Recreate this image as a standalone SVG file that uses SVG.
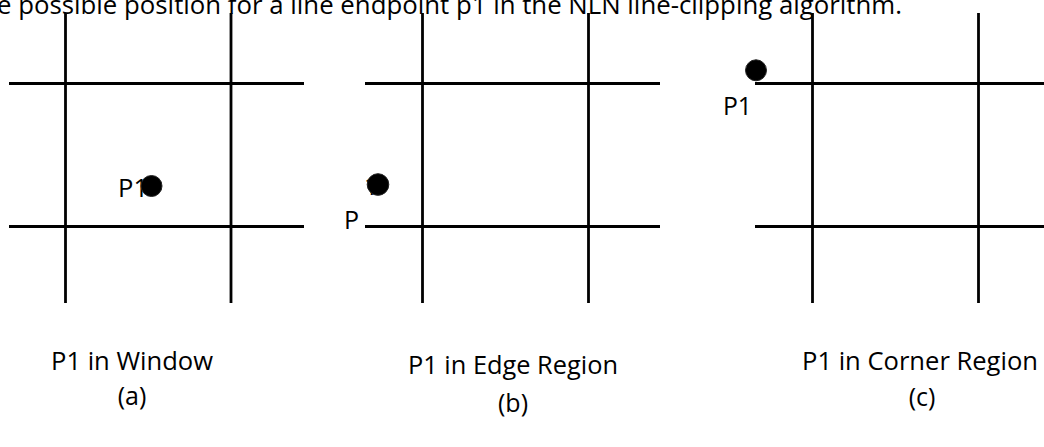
<svg xmlns="http://www.w3.org/2000/svg" width="1044" height="447" viewBox="0 0 1044 447">
<style>
.ln{stroke:#000;stroke-width:2.8;fill:none}
.t{font-family:"Open Sans","Noto Sans","Liberation Sans",sans-serif;font-size:25px;fill:#000}
.dot{fill:#000;stroke:#222;stroke-width:1}
</style>
<rect width="1044" height="447" fill="#fff"/>
<text class="t" x="-3" y="13.5" textLength="905" lengthAdjust="spacingAndGlyphs">e possible position for a line endpoint p1 in the NLN line-clipping algorithm.</text>
<g id="connectors">
<g id="grid-a">
<line class="ln" x1="65.5" y1="13" x2="65.5" y2="303"/>
<line class="ln" x1="231" y1="13" x2="231" y2="303"/>
<line class="ln" x1="9" y1="83.5" x2="304" y2="83.5"/>
<line class="ln" x1="9" y1="226.5" x2="304" y2="226.5"/>
</g>
<g id="grid-b">
<line class="ln" x1="422.5" y1="13" x2="422.5" y2="303"/>
<line class="ln" x1="588.5" y1="13" x2="588.5" y2="303"/>
<line class="ln" x1="365" y1="83.5" x2="660" y2="83.5"/>
<line class="ln" x1="365" y1="226.5" x2="660" y2="226.5"/>
</g>
<g id="grid-c">
<line class="ln" x1="812.5" y1="13" x2="812.5" y2="303"/>
<line class="ln" x1="978.5" y1="13" x2="978.5" y2="303"/>
<line class="ln" x1="755" y1="83.5" x2="1044" y2="83.5"/>
<line class="ln" x1="755" y1="226.5" x2="1044" y2="226.5"/>
</g>
</g>
<g id="p1-a">
<text class="t" x="118" y="197" textLength="30" lengthAdjust="spacingAndGlyphs">P1</text>
<circle class="dot" cx="151.5" cy="186" r="10.5"/>
</g>
<g id="p1-b">
<text class="t" x="364" y="195">1</text>
<circle class="dot" cx="378" cy="184.5" r="10.8"/>
<text class="t" x="344" y="229">P</text>
</g>
<g id="p1-c">
<circle class="dot" cx="756" cy="70.3" r="10.5"/>
<text class="t" x="723" y="115" textLength="29" lengthAdjust="spacingAndGlyphs">P1</text>
</g>
<g id="caption-a">
<text class="t" x="51" y="370" textLength="162" lengthAdjust="spacingAndGlyphs">P1 in Window</text>
<text class="t" x="132" y="405" text-anchor="middle">(a)</text>
</g>
<g id="caption-b">
<text class="t" x="408" y="374" textLength="210" lengthAdjust="spacingAndGlyphs">P1 in Edge Region</text>
<text class="t" x="513" y="412" text-anchor="middle">(b)</text>
</g>
<g id="caption-c">
<text class="t" x="802" y="370" textLength="236" lengthAdjust="spacingAndGlyphs">P1 in Corner Region</text>
<text class="t" x="922" y="406" text-anchor="middle">(c)</text>
</g>
</svg>
